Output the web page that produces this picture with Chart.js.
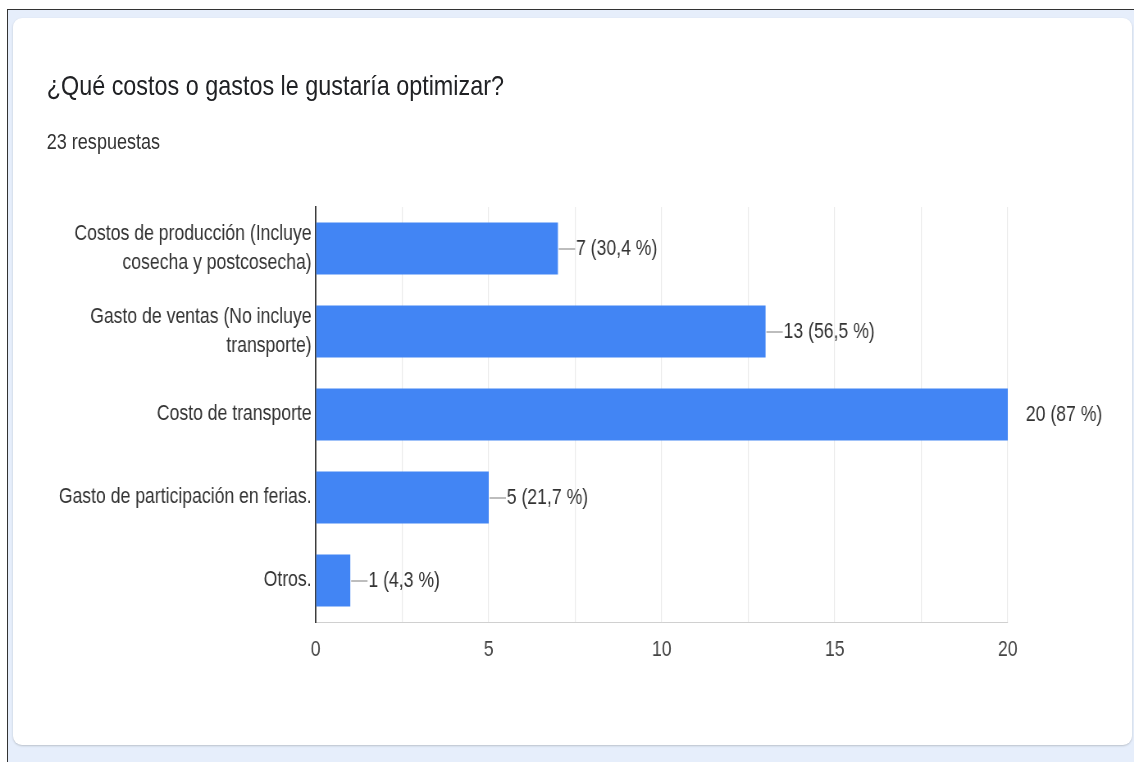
<!DOCTYPE html>
<html>
<head>
<meta charset="utf-8">
<script src="https://cdn.jsdelivr.net/npm/chart.js@4"></script>
<style>
  html, body { margin: 0; padding: 0; background: #fff; }
  body { width: 1134px; height: 762px; position: relative; overflow: hidden;
         font-family: "Liberation Sans", Arial, sans-serif; }
  #frame { position: absolute; left: 7px; top: 9px; right: 0; bottom: 0;
           background: #e6eefb; border-left: 1px solid #333; border-top: 1px solid #333; }
  #card { position: absolute; left: 13px; top: 18px; width: 1119px; height: 727px;
          background: #fff; border-radius: 9px; box-shadow: 0 1px 2px rgba(60,64,67,0.25); }
  /* the source screenshot is squeezed horizontally, so the content is too */
  #wrap { position: absolute; left: 0; top: 0; width: 1383px; height: 762px;
          transform: scaleX(0.82); transform-origin: 0 0; }
  #title { position: absolute; left: 57px; top: 71px; font-size: 28.5px; line-height: 28px; color: #202124; white-space: nowrap; }
  #sub { position: absolute; left: 57px; top: 131px; font-size: 22px; line-height: 22px; color: #333; white-space: nowrap; }
  canvas { position: absolute; left: 0; top: 0; }
</style>
</head>
<body>
<div id="frame"></div>
<div id="card"></div>
<div id="wrap">
  <div id="title">¿Qué costos o gastos le gustaría optimizar?</div>
  <div id="sub">23 respuestas</div>
  <canvas id="chart" width="1383" height="762"></canvas>
</div>
<script>
// answer options (multi-line labels as in the form summary)
const categories = [
    ['Costos de producción (Incluye', 'cosecha y postcosecha)'],
    ['Gasto de ventas (No incluye', 'transporte)'],
    'Costo de transporte',
    'Gasto de participación en ferias.',
    'Otros.'
];
const counts = [7, 13, 20, 5, 1];
const percents = ['30,4', '56,5', '87', '21,7', '4,3'];
const xTicks = [0, 5, 10, 15, 20];

const FONT = '"Liberation Sans", Arial, sans-serif';

// draws "—7 (30,4 %)" next to each bar
const barLabels = {
    id: 'barLabels',
    afterDatasetsDraw(chart) {
        const ctx = chart.ctx;
        const meta = chart.getDatasetMeta(0);
        const maxVal = Math.max(...counts);
        ctx.save();
        ctx.font = '21.5px ' + FONT;
        ctx.textBaseline = 'middle';
        ctx.textAlign = 'left';
        meta.data.forEach((bar, i) => {
            const x = bar.x, y = bar.y;
            if (counts[i] !== maxVal) {
                ctx.strokeStyle = '#999';
                ctx.lineWidth = 1.3;
                ctx.beginPath();
                ctx.moveTo(x + 1, y + 0.5);
                ctx.lineTo(x + 21, y + 0.5);
                ctx.stroke();
            }
            ctx.fillStyle = '#333';
            ctx.fillText(counts[i] + ' (' + percents[i] + ' %)', x + 22, y + 1);
        });
        ctx.restore();
    }
};

new Chart(document.getElementById('chart').getContext('2d'), {
    type: 'bar',
    data: {
        labels: categories,
        datasets: [{
            data: counts,
            backgroundColor: '#4285f4',
            borderWidth: 0,
            barPercentage: 0.625,
            categoryPercentage: 1
        }]
    },
    options: {
        indexAxis: 'y',
        responsive: false,
        animation: false,
        layout: { padding: { left: 0, top: 207, right: 154, bottom: 90 } },
        plugins: { legend: { display: false }, tooltip: { enabled: false } },
        scales: {
            x: {
                min: 0,
                max: 20,
                afterFit: s => { s.height = 50; },
                afterBuildTicks: s => {
                    const t = [];
                    for (let v = 0; v <= 20; v += 2.5) t.push({ value: v });
                    s.ticks = t;
                },
                grid: { color: '#ebebeb', lineWidth: 1.2, drawTicks: false },
                border: { color: '#d0d0d0', width: 1 },
                ticks: {
                    padding: 15,
                    color: '#444',
                    font: { family: FONT, size: 21.5 },
                    callback: v => xTicks.includes(v) ? String(v) : ''
                }
            },
            y: {
                afterFit: s => { s.width = 385; },
                grid: { display: false, drawTicks: false },
                border: { color: '#333', width: 1.8 },
                ticks: {
                    padding: 5,
                    color: '#333',
                    crossAlign: 'near',
                    font: { family: FONT, size: 21.5, lineHeight: 1.35 }
                }
            }
        }
    },
    plugins: [barLabels]
});
</script>
</body>
</html>
